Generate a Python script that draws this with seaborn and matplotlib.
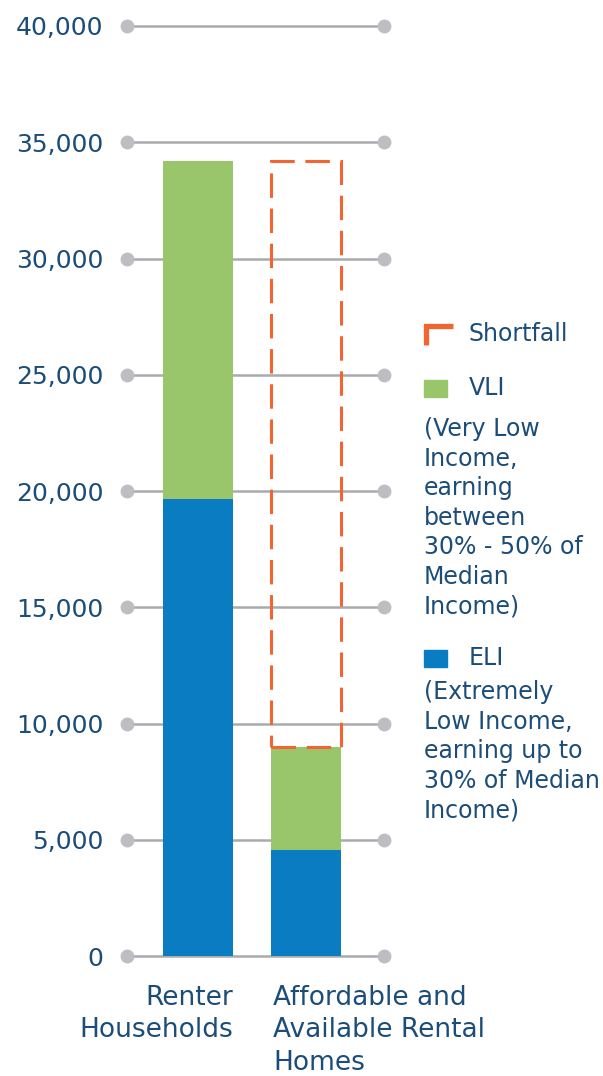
import numpy as np
import pandas as pd
import matplotlib
matplotlib.use("Agg")
import matplotlib.pyplot as plt
from matplotlib.lines import Line2D
from matplotlib.patches import Rectangle
import seaborn as sns

# data
categories = ["Renter Households", "Affordable and Available Rental Homes"]
eli = [19650, 4560]
vli = [14550, 4440]
shortfall_top = 34200
y_ticks = [0, 5000, 10000, 15000, 20000, 25000, 30000, 35000, 40000]

BLUE = "#0a7cc1"
GREEN = "#99c66b"
ORANGE = "#f26430"
GRID = "#a9aaad"
DOT = "#bdbec1"
TEXT = "#1c4d78"
FS = 18
XFS = 19
LFS = 17

sns.set_theme(style="white")
plt.rcParams["font.family"] = ["DejaVu Sans"]

W, H = 603, 1076
fig = plt.figure(figsize=(W / 100, H / 100), dpi=100)
ax = fig.add_axes([127 / W, (H - 956) / H, (384 - 127) / W, 930 / H])

df = pd.DataFrame({"cat": categories, "eli": eli, "vli": vli})
df["total"] = df["eli"] + df["vli"]

# grid lines with dots at both ends
xl = (-0.657, 1.722)
for t in y_ticks:
    ax.plot(xl, [t, t], color=GRID, lw=1.8, zorder=1, solid_capstyle="butt",
            clip_on=False)
    ax.plot(xl, [t, t], ls="none", marker="o", ms=10, color=DOT,
            mec="none", zorder=1, clip_on=False)

sns.barplot(data=df, x="cat", y="total", color=GREEN, width=0.648,
            saturation=1, linewidth=0, ax=ax, zorder=2)
sns.barplot(data=df, x="cat", y="eli", color=BLUE, width=0.648,
            saturation=1, linewidth=0, ax=ax, zorder=3)

# shortfall outline on the second bar
short = shortfall_top - df["total"].iloc[1]
sb = ax.bar([1], [short], bottom=[df["total"].iloc[1]], width=0.648,
            fill=False, edgecolor=ORANGE, lw=2.2, zorder=4)
for p in sb.patches:
    p.set_linestyle((0, (8, 3.5)))

ax.set_xlim(*xl)
ax.set_ylim(0, 40000)
ax.set_yticks(y_ticks)
ax.set_yticklabels([f"{t:,}" for t in y_ticks], color=TEXT, fontsize=FS)
ax.tick_params(axis="y", length=0, pad=17)
ax.set_xticks([])
ax.set_xlabel("")
ax.set_ylabel("")
for s in ax.spines.values():
    s.set_visible(False)

# category labels
fig.text(233 / W, 1 - 985 / H, "Renter\nHouseholds", ha="right", va="top",
         color=TEXT, fontsize=XFS, linespacing=1.32)
fig.text(273 / W, 1 - 985 / H, "Affordable and\nAvailable Rental\nHomes",
         ha="left", va="top", color=TEXT, fontsize=XFS, linespacing=1.32)

# legend
fig.add_artist(Line2D([426 / W, 426 / W, 453 / W],
                      [1 - 345 / H, 1 - 326 / H, 1 - 326 / H],
                      color=ORANGE, lw=3.8, solid_capstyle="butt",
                      solid_joinstyle="miter"))
fig.text(469 / W, 1 - 334 / H, "Shortfall", va="center", color=TEXT, fontsize=LFS)
fig.add_artist(Rectangle((424 / W, 1 - 397 / H), 23 / W, 17 / H,
                         color=GREEN, transform=fig.transFigure))
fig.text(469 / W, 1 - 388 / H, "VLI", va="center", color=TEXT, fontsize=LFS)
fig.text(424 / W, 1 - 417 / H,
         "(Very Low\nIncome,\nearning\nbetween\n30% - 50% of\nMedian\nIncome)",
         va="top", color=TEXT, fontsize=LFS, linespacing=1.29)
fig.add_artist(Rectangle((424 / W, 1 - 667 / H), 23 / W, 17 / H,
                         color=BLUE, transform=fig.transFigure))
fig.text(469 / W, 1 - 658 / H, "ELI", va="center", color=TEXT, fontsize=LFS)
fig.text(424 / W, 1 - 680 / H,
         "(Extremely\nLow Income,\nearning up to\n30% of Median\nIncome)",
         va="top", color=TEXT, fontsize=LFS, linespacing=1.29)

fig.savefig("out.png", dpi=100)
